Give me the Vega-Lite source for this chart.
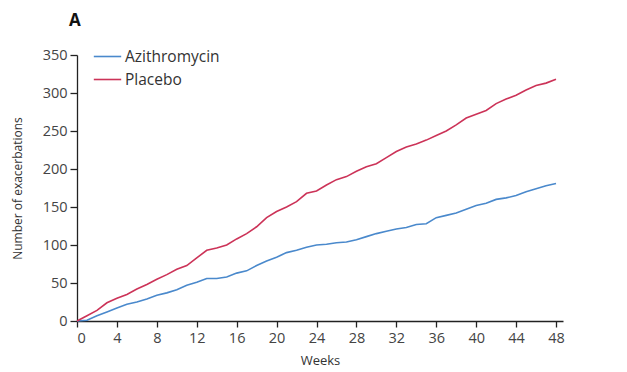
{
  "$schema": "https://vega.github.io/schema/vega-lite/v6.json",
  "autosize": "none",
  "width": 486,
  "height": 266,
  "padding": {"left": 77, "top": 55, "right": 64, "bottom": 51},
  "background": "white",
  "title": {"text": "A", "anchor": "start", "frame": "group", "fontSize": 17, "fontWeight": "bold", "font": "Open Sans", "color": "#111", "offset": 12, "dx": -8},
  "data": {"values": [
    {"week":0,"group":"Azithromycin","n":0},{"week":1,"group":"Azithromycin","n":1},{"week":2,"group":"Azithromycin","n":7},{"week":3,"group":"Azithromycin","n":12},{"week":4,"group":"Azithromycin","n":17},{"week":5,"group":"Azithromycin","n":22},{"week":6,"group":"Azithromycin","n":25},{"week":7,"group":"Azithromycin","n":29},{"week":8,"group":"Azithromycin","n":34},{"week":9,"group":"Azithromycin","n":37},{"week":10,"group":"Azithromycin","n":41},{"week":11,"group":"Azithromycin","n":47},{"week":12,"group":"Azithromycin","n":51},{"week":13,"group":"Azithromycin","n":56},{"week":14,"group":"Azithromycin","n":56},{"week":15,"group":"Azithromycin","n":58},{"week":16,"group":"Azithromycin","n":63},{"week":17,"group":"Azithromycin","n":66},{"week":18,"group":"Azithromycin","n":73},{"week":19,"group":"Azithromycin","n":79},{"week":20,"group":"Azithromycin","n":84},{"week":21,"group":"Azithromycin","n":90},{"week":22,"group":"Azithromycin","n":93},{"week":23,"group":"Azithromycin","n":97},{"week":24,"group":"Azithromycin","n":100},{"week":25,"group":"Azithromycin","n":101},{"week":26,"group":"Azithromycin","n":103},{"week":27,"group":"Azithromycin","n":104},{"week":28,"group":"Azithromycin","n":107},{"week":29,"group":"Azithromycin","n":111},{"week":30,"group":"Azithromycin","n":115},{"week":31,"group":"Azithromycin","n":118},{"week":32,"group":"Azithromycin","n":121},{"week":33,"group":"Azithromycin","n":123},{"week":34,"group":"Azithromycin","n":127},{"week":35,"group":"Azithromycin","n":128},{"week":36,"group":"Azithromycin","n":136},{"week":37,"group":"Azithromycin","n":139},{"week":38,"group":"Azithromycin","n":142},{"week":39,"group":"Azithromycin","n":147},{"week":40,"group":"Azithromycin","n":152},{"week":41,"group":"Azithromycin","n":155},{"week":42,"group":"Azithromycin","n":160},{"week":43,"group":"Azithromycin","n":162},{"week":44,"group":"Azithromycin","n":165},{"week":45,"group":"Azithromycin","n":170},{"week":46,"group":"Azithromycin","n":174},{"week":47,"group":"Azithromycin","n":178},{"week":48,"group":"Azithromycin","n":181},
    {"week":0,"group":"Placebo","n":0},{"week":1,"group":"Placebo","n":7},{"week":2,"group":"Placebo","n":14},{"week":3,"group":"Placebo","n":24},{"week":4,"group":"Placebo","n":30},{"week":5,"group":"Placebo","n":35},{"week":6,"group":"Placebo","n":42},{"week":7,"group":"Placebo","n":48},{"week":8,"group":"Placebo","n":55},{"week":9,"group":"Placebo","n":61},{"week":10,"group":"Placebo","n":68},{"week":11,"group":"Placebo","n":73},{"week":12,"group":"Placebo","n":83},{"week":13,"group":"Placebo","n":93},{"week":14,"group":"Placebo","n":96},{"week":15,"group":"Placebo","n":100},{"week":16,"group":"Placebo","n":108},{"week":17,"group":"Placebo","n":115},{"week":18,"group":"Placebo","n":124},{"week":19,"group":"Placebo","n":136},{"week":20,"group":"Placebo","n":144},{"week":21,"group":"Placebo","n":150},{"week":22,"group":"Placebo","n":157},{"week":23,"group":"Placebo","n":168},{"week":24,"group":"Placebo","n":171},{"week":25,"group":"Placebo","n":179},{"week":26,"group":"Placebo","n":186},{"week":27,"group":"Placebo","n":190},{"week":28,"group":"Placebo","n":197},{"week":29,"group":"Placebo","n":203},{"week":30,"group":"Placebo","n":207},{"week":31,"group":"Placebo","n":215},{"week":32,"group":"Placebo","n":223},{"week":33,"group":"Placebo","n":229},{"week":34,"group":"Placebo","n":233},{"week":35,"group":"Placebo","n":238},{"week":36,"group":"Placebo","n":244},{"week":37,"group":"Placebo","n":250},{"week":38,"group":"Placebo","n":258},{"week":39,"group":"Placebo","n":267},{"week":40,"group":"Placebo","n":272},{"week":41,"group":"Placebo","n":277},{"week":42,"group":"Placebo","n":286},{"week":43,"group":"Placebo","n":292},{"week":44,"group":"Placebo","n":297},{"week":45,"group":"Placebo","n":304},{"week":46,"group":"Placebo","n":310},{"week":47,"group":"Placebo","n":313},{"week":48,"group":"Placebo","n":318}
  ]},
  "mark": {"type": "line", "strokeWidth": 1.6, "interpolate": "linear"},
  "encoding": {
    "x": {"field": "week", "type": "quantitative", "scale": {"domain": [0, 48.7], "nice": false, "zero": false},
      "axis": {"values": [0,4,8,12,16,20,24,28,32,36,40,44,48], "title": "Weeks", "grid": false, "labelPadding": 4, "titlePadding": 10, "tickSize": 6}},
    "y": {"field": "n", "type": "quantitative", "scale": {"domain": [0, 350], "nice": false},
      "axis": {"values": [0,50,100,150,200,250,300,350], "title": "Number of exacerbations", "grid": false, "titlePadding": 18, "titleFontSize": 12, "tickSize": 7, "labelPadding": 3}},
    "color": {"field": "group", "type": "nominal",
      "scale": {"domain": ["Azithromycin", "Placebo"], "range": ["#4a89cc", "#cc3358"]},
      "legend": {"title": null, "orient": "none", "legendX": 16, "legendY": -13, "symbolType": "stroke", "symbolSize": 750, "symbolStrokeWidth": 1.6, "labelFontSize": 15.5, "labelFont": "Open Sans", "labelColor": "#333", "rowPadding": -2, "labelOffset": 3}}
  },
  "config": {
    "view": {"stroke": null},
    "axis": {"domainColor": "#222", "domainWidth": 1.3, "tickColor": "#222", "tickWidth": 1.3, "labelFont": "Open Sans", "labelFontSize": 14.5, "labelColor": "#444", "titleFont": "Open Sans", "titleFontSize": 13, "titleFontWeight": "normal", "titleColor": "#333"}
  }
}
